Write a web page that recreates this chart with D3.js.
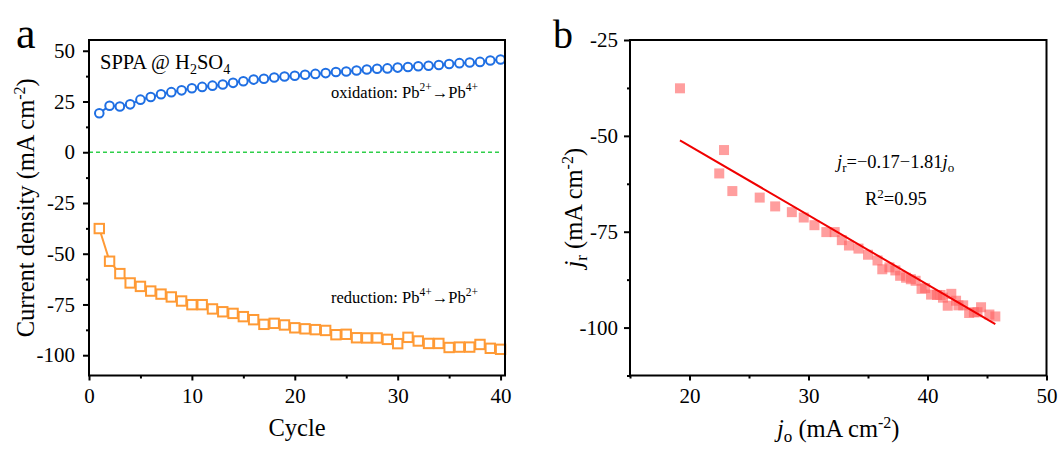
<!DOCTYPE html>
<html>
<head>
<meta charset="utf-8">
<script src="https://cdn.jsdelivr.net/npm/d3@7"></script>
<style>
  html, body { margin: 0; padding: 0; background: #fff; }
  svg { display: block; font-family: "Liberation Serif", "Times New Roman", serif; }
</style>
</head>
<body>
<svg id="chart" width="1061" height="451"></svg>
<script>
// Cycle numbers 1..40
const cycles = [1,2,3,4,5,6,7,8,9,10,11,12,13,14,15,16,17,18,19,20,
                21,22,23,24,25,26,27,28,29,30,31,32,33,34,35,36,37,38,39,40];

// Oxidation current density, Pb2+ -> Pb4+ (mA cm^-2)
const oxidation = [19.2,22.9,22.5,23.6,25.9,27.2,28.6,29.6,30.5,31.5,
                   32.2,32.8,33.4,34.2,35.0,35.8,36.2,36.8,37.3,37.7,
                   38.2,38.6,39.0,39.5,39.8,40.3,40.8,41.1,41.3,41.7,
                   42.0,42.4,42.6,43.0,43.5,43.9,44.2,44.5,45.2,45.7];

// Reduction current density, Pb4+ -> Pb2+ (mA cm^-2)
const reduction = [-37.6,-53.7,-59.8,-64.4,-66.1,-68.4,-69.9,-71.3,-73.3,-75.1,
                   -75.1,-77.2,-78.6,-79.4,-81.0,-82.5,-84.8,-84.3,-85.1,-86.5,
                   -87.0,-87.4,-87.8,-89.9,-89.7,-91.4,-91.5,-91.5,-92.2,-94.3,
                   -91.2,-93.0,-94.2,-94.2,-96.2,-96.0,-96.0,-94.7,-96.6,-97.1];

// Tick values
const ticksAX = [0, 10, 20, 30, 40];
const ticksAY = [50, 25, 0, -25, -50, -75, -100];
const ticksBX = [20, 30, 40, 50];
const ticksBY = [-25, -50, -75, -100];

// Linear fit of j_r against j_o
const fitSlope = -1.81;
const fitIntercept = -16.4;

const svg = d3.select("#chart");
const serif = '"Liberation Serif", "Times New Roman", serif';
const plain = d => String(d);   // hyphen-minus, as in the tick labels

// ---------- Panel a ----------
const A = { left: 89, right: 505, top: 40, bottom: 375.5 };
const xA = d3.scaleLinear().domain([0, 40.43]).range([A.left, A.right]);
const yA = d3.scaleLinear().domain([-110, 55.3]).range([A.bottom, A.top]);

const gA = svg.append("g");

// zero reference
gA.append("line")
  .attr("x1", xA(0)).attr("x2", xA(40))
  .attr("y1", yA(0)).attr("y2", yA(0))
  .attr("stroke", "#2fcf4a").attr("stroke-width", 1.3)
  .attr("stroke-dasharray", "4,3");

const oxData = cycles.map((c, i) => [c, oxidation[i]]);
const redData = cycles.map((c, i) => [c, reduction[i]]);
const lineA = d3.line().x(d => xA(d[0])).y(d => yA(d[1]));

gA.append("path").datum(oxData).attr("d", lineA)
  .attr("fill", "none").attr("stroke", "#1f6fe3").attr("stroke-width", 2);
gA.append("path").datum(redData).attr("d", lineA)
  .attr("fill", "none").attr("stroke", "#ff9a35").attr("stroke-width", 2);

gA.selectAll("circle.ox").data(oxData).enter().append("circle")
  .attr("cx", d => xA(d[0])).attr("cy", d => yA(d[1])).attr("r", 4.3)
  .attr("fill", "#fff").attr("stroke", "#1f6fe3").attr("stroke-width", 2);

gA.selectAll("rect.red").data(redData).enter().append("rect")
  .attr("x", d => xA(d[0]) - 4.7).attr("y", d => yA(d[1]) - 4.7)
  .attr("width", 9.4).attr("height", 9.4)
  .attr("fill", "#fff").attr("stroke", "#ff9a35").attr("stroke-width", 2);

function styleAxis(g) {
  g.attr("font-family", serif).attr("font-size", 21);
  g.select(".domain").remove();
  g.selectAll(".tick line").attr("stroke", "#000").attr("stroke-width", 2);
  g.selectAll(".tick text").attr("font-family", serif).attr("font-size", 21).attr("fill", "#000");
}

// axes a
const axAB = d3.axisBottom(xA).tickValues(ticksAX).tickSize(5).tickPadding(8).tickFormat(plain);
const axAL = d3.axisLeft(yA).tickValues(ticksAY).tickSize(6).tickPadding(8).tickFormat(plain);
const minorAX = d3.axisBottom(xA).tickValues([5, 15, 25, 35]).tickSize(3).tickFormat("");
const minorAY = d3.axisLeft(yA).tickValues([37.5, 12.5, -12.5, -37.5, -62.5, -87.5]).tickSize(3).tickFormat("");

gA.append("g").attr("transform", `translate(0,${A.bottom})`).call(axAB).call(styleAxis);
gA.append("g").attr("transform", `translate(0,${A.bottom})`).call(minorAX).call(styleAxis);
gA.append("g").attr("transform", `translate(${A.left},0)`).call(axAL).call(styleAxis);
gA.append("g").attr("transform", `translate(${A.left},0)`).call(minorAY).call(styleAxis);

gA.append("rect").attr("x", A.left).attr("y", A.top)
  .attr("width", A.right - A.left).attr("height", A.bottom - A.top)
  .attr("fill", "none").attr("stroke", "#000").attr("stroke-width", 2);

// labels a
gA.append("text").attr("x", 16).attr("y", 48).attr("font-size", 44).attr("font-family", serif).text("a");

gA.append("text").attr("x", (A.left + A.right) / 2).attr("y", 436)
  .attr("text-anchor", "middle").attr("font-size", 24.5).attr("font-family", serif).text("Cycle");

const ylabA = gA.append("text")
  .attr("transform", `translate(34,${(A.top + A.bottom) / 2}) rotate(-90)`)
  .attr("text-anchor", "middle").attr("font-size", 24.5).attr("font-family", serif);
ylabA.append("tspan").text("Current density (mA cm");
ylabA.append("tspan").attr("dy", -9).attr("font-size", 16).text("-2");
ylabA.append("tspan").attr("dy", 9).text(")");

const t1 = gA.append("text").attr("x", 100).attr("y", 68.5).attr("font-size", 20.5).attr("font-family", serif);
t1.append("tspan").text("SPPA @ H");
t1.append("tspan").attr("dy", 5).attr("font-size", 14).text("2");
t1.append("tspan").attr("dy", -5).text("SO");
t1.append("tspan").attr("dy", 5).attr("font-size", 14).text("4");

function reaction(y, label, a, b) {
  const t = gA.append("text").attr("x", 331).attr("y", y).attr("font-size", 16.5).attr("font-family", serif);
  t.append("tspan").text(label + " Pb");
  t.append("tspan").attr("dy", -7).attr("font-size", 11.5).text(a);
  t.append("tspan").attr("dy", 7).text("\u2192Pb");
  t.append("tspan").attr("dy", -7).attr("font-size", 11.5).text(b);
}
reaction(98, "oxidation:", "2+", "4+");
reaction(302.5, "reduction:", "4+", "2+");

// ---------- Panel b ----------
const B = { left: 630, right: 1046.5, top: 40, bottom: 375.5 };
const xB = d3.scaleLinear().domain([15, 50]).range([B.left, B.right]);
const yB = d3.scaleLinear().domain([-112.5, -25]).range([B.bottom, B.top]);

const gB = svg.append("g");
const scatter = oxidation.map((o, i) => [o, reduction[i]]);

gB.selectAll("rect.pt").data(scatter).enter().append("rect")
  .attr("x", d => xB(d[0]) - 5).attr("y", d => yB(d[1]) - 5)
  .attr("width", 10).attr("height", 10)
  .attr("fill", "#ff6262").attr("fill-opacity", 0.62);

const xMin = d3.min(oxidation), xMax = d3.max(oxidation);
gB.append("line")
  .attr("x1", xB(xMin)).attr("y1", yB(fitIntercept + fitSlope * xMin))
  .attr("x2", xB(xMax)).attr("y2", yB(fitIntercept + fitSlope * xMax))
  .attr("stroke", "#f00000").attr("stroke-width", 2);

const axBB = d3.axisBottom(xB).tickValues(ticksBX).tickSize(5).tickPadding(8).tickFormat(plain);
const axBL = d3.axisLeft(yB).tickValues(ticksBY).tickSize(6).tickPadding(6).tickFormat(plain);
const minorBX = d3.axisBottom(xB).tickValues([15, 25, 35, 45]).tickSize(3).tickFormat("");
const minorBY = d3.axisLeft(yB).tickValues([-37.5, -62.5, -87.5, -112.5]).tickSize(3).tickFormat("");

gB.append("g").attr("transform", `translate(0,${B.bottom})`).call(axBB).call(styleAxis);
gB.append("g").attr("transform", `translate(0,${B.bottom})`).call(minorBX).call(styleAxis);
gB.append("g").attr("transform", `translate(${B.left},0)`).call(axBL).call(styleAxis);
gB.append("g").attr("transform", `translate(${B.left},0)`).call(minorBY).call(styleAxis);

gB.append("rect").attr("x", B.left).attr("y", B.top)
  .attr("width", B.right - B.left).attr("height", B.bottom - B.top)
  .attr("fill", "none").attr("stroke", "#000").attr("stroke-width", 2);

gB.append("text").attr("x", 553).attr("y", 48).attr("font-size", 40).attr("font-family", serif).text("b");

const xlabB = gB.append("text").attr("x", (B.left + B.right) / 2).attr("y", 437)
  .attr("text-anchor", "middle").attr("font-size", 24.5).attr("font-family", serif);
xlabB.append("tspan").attr("font-style", "italic").text("j");
xlabB.append("tspan").attr("dy", 5).attr("font-size", 17).text("o");
xlabB.append("tspan").attr("dy", -5).text(" (mA cm");
xlabB.append("tspan").attr("dy", -9).attr("font-size", 16).text("-2");
xlabB.append("tspan").attr("dy", 9).text(")");

const ylabB = gB.append("text")
  .attr("transform", `translate(582,${(B.top + B.bottom) / 2}) rotate(-90)`)
  .attr("text-anchor", "middle").attr("font-size", 24.5).attr("font-family", serif);
ylabB.append("tspan").attr("font-style", "italic").text("j");
ylabB.append("tspan").attr("dy", 5).attr("font-size", 17).text("r");
ylabB.append("tspan").attr("dy", -5).text(" (mA cm");
ylabB.append("tspan").attr("dy", -9).attr("font-size", 16).text("-2");
ylabB.append("tspan").attr("dy", 9).text(")");

const eq = gB.append("text").attr("x", 837).attr("y", 168).attr("font-size", 18.5).attr("font-family", serif);
eq.append("tspan").attr("font-style", "italic").text("j");
eq.append("tspan").attr("dy", 4).attr("font-size", 13).text("r");
eq.append("tspan").attr("dy", -4).text("=\u22120.17\u22121.81");
eq.append("tspan").attr("font-style", "italic").text("j");
eq.append("tspan").attr("dy", 4).attr("font-size", 13).text("o");

const r2 = gB.append("text").attr("x", 865).attr("y", 205).attr("font-size", 18.5).attr("font-family", serif);
r2.append("tspan").text("R");
r2.append("tspan").attr("dy", -7).attr("font-size", 13).text("2");
r2.append("tspan").attr("dy", 7).text("=0.95");
</script>
</body>
</html>
